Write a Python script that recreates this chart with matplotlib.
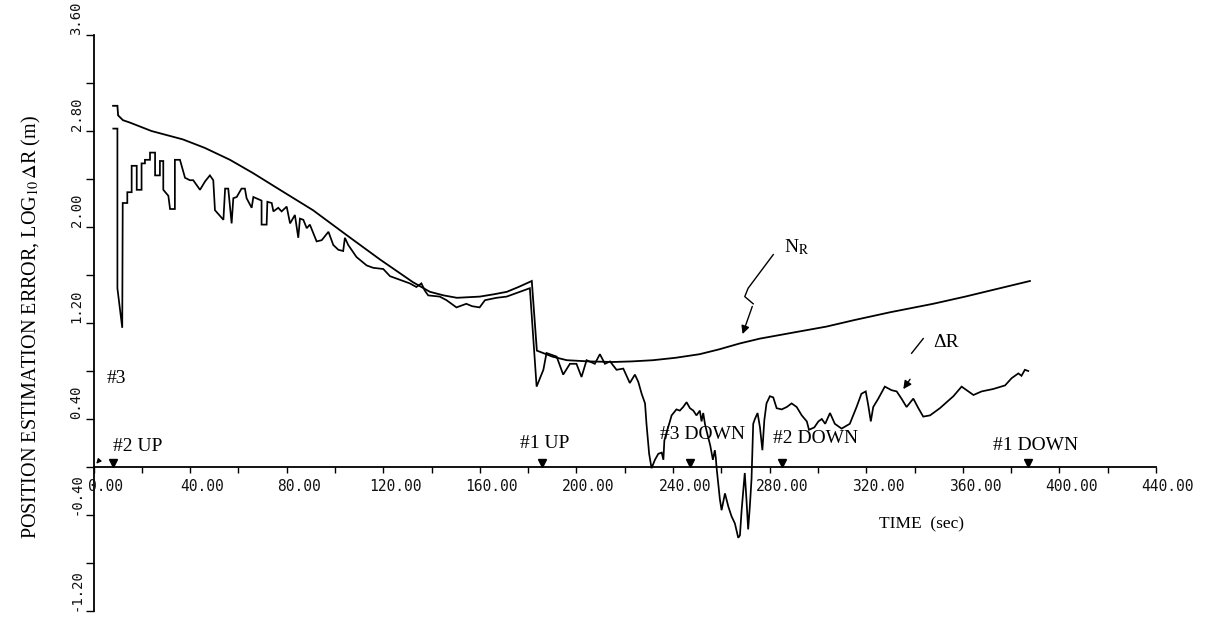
import matplotlib
matplotlib.use("Agg")
import matplotlib.pyplot as plt
import matplotlib.transforms as mtransforms
import numpy as np

plt.rcParams['mathtext.fontset'] = 'stix'
plt.rcParams['font.family'] = ['Liberation Serif', 'DejaVu Serif']

# ---------------- data ----------------
# N_R : filter-predicted error bound (log10 m)
nr_time = [8.1, 9.9, 10.2, 12.2, 15.1, 24.0, 37.0, 46.0, 56.5, 66.0, 77.2, 90.9,
           105.0, 118.6, 132.3, 139.3, 145.0, 150.5, 160.0, 166.0, 171.2, 176.0,
           181.5, 183.6, 190.0, 196.0, 205.0, 215.0, 223.0, 231.7, 241.0, 251.0,
           259.0, 267.7, 276.0, 289.7, 303.5, 315.2, 330.0, 347.7, 361.0, 375.4, 387.8]
nr_log = [3.01, 3.01, 2.93, 2.89, 2.87, 2.80, 2.73, 2.66, 2.56, 2.45, 2.31, 2.14,
          1.93, 1.73, 1.54, 1.46, 1.43, 1.41, 1.42, 1.44, 1.46, 1.50,
          1.55, 0.97, 0.92, 0.89, 0.88, 0.875, 0.88, 0.89, 0.91, 0.94,
          0.98, 1.03, 1.07, 1.12, 1.17, 1.225, 1.29, 1.36, 1.42, 1.49, 1.55]

# Delta R : actual position estimation error (log10 m)
dr_time = [8.2, 9.9, 9.9, 11.9, 12.1, 14.0, 14.0, 15.8, 15.8, 17.9, 17.9, 19.9, 19.9,
           21.3, 21.3, 23.4, 23.4, 25.5, 25.5, 27.5, 27.5, 28.9, 28.9, 31.0, 31.7,
           33.7, 33.7, 35.8, 37.9, 39.9, 41.3, 44.1, 46.2, 48.2, 49.6, 50.3, 53.8,
           54.5, 55.8, 57.2, 57.9, 59.3, 61.3, 62.7, 63.4, 65.5, 66.2, 69.6, 69.6,
           71.7, 72.0, 73.8, 74.5, 76.5, 77.9, 80.0, 81.4, 83.4, 84.8, 85.5, 86.9,
           88.3, 89.6, 92.4, 94.5, 97.3, 99.3, 101.4, 103.4, 104.1, 105.5, 108.9,
           113.1, 115.8, 120.0, 122.8, 126.9, 131.0, 133.7, 135.8, 137.2, 138.6,
           143.4, 146.2, 150.3, 154.4, 156.8, 159.9, 162.1, 166.9, 171.1, 175.2,
           180.7, 183.5, 186.3, 187.6, 191.8, 194.5, 197.3, 200.0, 202.1, 204.2,
           207.6, 209.7, 211.8, 213.9, 216.6, 219.4, 222.1, 224.2, 225.6, 227.0,
           228.4, 229.0, 230.1, 231.1, 232.5, 233.9, 235.3, 236.0, 236.4, 237.5,
           238.7, 239.4, 241.4, 242.8, 244.2, 245.6, 247.0, 248.4, 249.7, 251.1,
           251.8, 252.5, 253.2, 253.9, 255.4, 256.5, 257.3, 257.7, 258.0, 259.4,
           260.1, 261.5, 262.9, 264.2, 265.6, 267.0, 267.7, 268.4, 269.7, 270.4,
           271.1, 271.8, 272.5, 273.2, 273.9, 275.0, 276.0, 277.0, 277.8, 278.7,
           280.1, 281.5, 282.9, 285.0, 287.1, 289.1, 291.2, 293.3, 295.4, 296.3,
           298.5, 300.2, 301.6, 303.0, 305.0, 307.0, 309.8, 313.2, 316.0, 318.0,
           319.8, 320.8, 321.9, 322.9, 325.0, 327.7, 330.5, 332.6, 334.6, 336.7,
           339.5, 341.6, 343.6, 346.4, 350.5, 356.1, 359.5, 361.6, 364.4, 367.8,
           372.6, 377.5, 380.2, 383.0, 384.3, 385.7, 387.1]
dr_log = [2.82, 2.82, 1.49, 1.16, 2.20, 2.20, 2.29, 2.29, 2.51, 2.51, 2.31, 2.31, 2.53,
          2.53, 2.56, 2.56, 2.62, 2.62, 2.43, 2.43, 2.55, 2.55, 2.31, 2.26, 2.15,
          2.15, 2.56, 2.56, 2.41, 2.39, 2.39, 2.31, 2.38, 2.43, 2.39, 2.14, 2.06,
          2.32, 2.32, 2.03, 2.24, 2.25, 2.32, 2.32, 2.24, 2.16, 2.25, 2.22, 2.02,
          2.02, 2.21, 2.20, 2.13, 2.16, 2.13, 2.17, 2.03, 2.10, 1.91, 2.07, 2.06,
          1.99, 2.02, 1.88, 1.89, 1.96, 1.85, 1.81, 1.80, 1.91, 1.85, 1.75,
          1.68, 1.66, 1.65, 1.59, 1.56, 1.53, 1.50, 1.53, 1.47, 1.43,
          1.42, 1.39, 1.33, 1.36, 1.34, 1.33, 1.39, 1.41, 1.42, 1.45,
          1.49, 0.67, 0.81, 0.95, 0.92, 0.77, 0.86, 0.86, 0.75, 0.89,
          0.86, 0.94, 0.86, 0.88, 0.81, 0.82, 0.70, 0.77, 0.71, 0.61,
          0.53, 0.36, 0.11, -0.01, 0.06, 0.11, 0.12, 0.06, 0.22, 0.30,
          0.38, 0.43, 0.48, 0.47, 0.50, 0.54, 0.49, 0.47, 0.43, 0.47,
          0.38, 0.45, 0.36, 0.30, 0.18, 0.06, 0.14, 0.08, 0.00, -0.27,
          -0.36, -0.22, -0.33, -0.41, -0.47, -0.59, -0.57, -0.36, -0.05, -0.27,
          -0.52, -0.33, -0.10, 0.36, 0.40, 0.45, 0.33, 0.14, 0.39, 0.53,
          0.59, 0.58, 0.49, 0.48, 0.50, 0.53, 0.50, 0.43, 0.38, 0.31,
          0.33, 0.38, 0.40, 0.36, 0.45, 0.36, 0.32, 0.36, 0.50, 0.61,
          0.63, 0.52, 0.38, 0.50, 0.57, 0.67, 0.64, 0.63, 0.57, 0.50,
          0.57, 0.49, 0.42, 0.43, 0.49, 0.59, 0.67, 0.64, 0.60, 0.63,
          0.65, 0.68, 0.74, 0.78, 0.76, 0.81, 0.80]

# satellite events (marker time on the time axis)
event_labels = ["#2 UP", "#1 UP", "#3 DOWN", "#2 DOWN", "#1 DOWN"]
event_times = [8.1, 185.6, 247.0, 285.2, 387.1]
event_text_x = [8.1, 176.5, 234.6, 281.4, 372.5]
event_text_y = [0.17, 0.20, 0.27, 0.24, 0.18]

x_ticks = list(range(0, 441, 20))
x_labels = ["%.2f" % v if v % 40 == 0 else "" for v in x_ticks]
y_ticks = [round(-1.2 + 0.4 * k, 2) for k in range(13)]
y_labels = ["%.2f" % v if k % 2 == 0 else "" for k, v in enumerate(y_ticks)]

# ---------------- figure ----------------
W, H, DPI = 1210, 628, 100
fig = plt.figure(figsize=(W / DPI, H / DPI), dpi=DPI)
x0px, x1px, ytop, ybot = 93.5, 1156.0, 35.0, 611.0
ax = fig.add_axes([x0px / W, 1 - ybot / H, (x1px - x0px) / W, (ybot - ytop) / H])

ax.plot(nr_time, nr_log, color='black', lw=1.3, solid_joinstyle='miter')
ax.plot(dr_time, dr_log, color='black', lw=1.25, solid_joinstyle='miter')

ax.set_xlim(0, 440)
ax.set_ylim(-1.2, 3.6)
ax.spines['top'].set_visible(False)
ax.spines['right'].set_visible(False)
ax.spines['bottom'].set_position(('data', 0))
for s in ('left', 'bottom'):
    ax.spines[s].set_linewidth(1.3)

ax.set_xticks(x_ticks)
ax.set_yticks(y_ticks)
ax.tick_params(axis='x', direction='out', length=4, width=1.0, labelbottom=False)
ax.tick_params(axis='y', direction='out', length=6, width=1.0, labelleft=False)

def px(dx, dy):
    return mtransforms.ScaledTranslation(dx / DPI, dy / DPI, fig.dpi_scale_trans)

mono = 'DejaVu Sans Mono'
for v, lab in zip(x_ticks, x_labels):
    if lab:
        ax.text(v, 0, lab, transform=ax.transData + px(12, -12), ha='center', va='top',
                fontsize=10.5, family=mono, color='#111111')
for v, lab in zip(y_ticks, y_labels):
    if lab:
        ax.text(0, v, lab, transform=ax.get_yaxis_transform() + px(-17, 0), rotation=90,
                ha='center', va='bottom', fontsize=10, family=mono, color='#111111')

# event markers and labels
ax.plot(event_times, [0] * len(event_times), ls='none', marker='v', ms=6, color='black',
        transform=ax.transData + px(0, 4.2), clip_on=False)
for tx, ty, lab in zip(event_text_x, event_text_y, event_labels):
    ax.text(tx, ty, lab, ha='left', va='center', fontsize=14)
ax.text(5.6, 0.74, "#3", ha='left', va='center', fontsize=14)
ax.annotate("", xy=(0.4, 0.01), xytext=(3.0, 0.07),
            arrowprops=dict(arrowstyle='-|>', color='black', lw=0.8, mutation_scale=7))

# N_R label with broken leader
ax.text(286.0, 1.83, r"N$_{\mathrm{R}}$", ha='left', va='center', fontsize=14)
ax.plot([281.5, 271.1, 269.7, 273.2], [1.77, 1.49, 1.42, 1.36], color='black', lw=1.0)
ax.annotate("", xy=(268.4, 1.086), xytext=(273.2, 1.36),
            arrowprops=dict(arrowstyle='-|>', color='black', lw=1.0, mutation_scale=12))

# Delta R label with broken leader
ax.text(347.8, 1.04, "\u0394R", ha='left', va='center', fontsize=14)
ax.plot([343.6, 338.8], [1.07, 0.948], color='black', lw=1.0)
ax.annotate("", xy=(334.7, 0.63), xytext=(338.8, 0.75),
            arrowprops=dict(arrowstyle='-|>', color='black', lw=1.0, mutation_scale=12))

# axis titles
ax.text(343, -0.48, "TIME  (sec)", ha='center', va='center', fontsize=12.5)
fig.text(31 / W, 1 - 327 / H, r"POSITION ESTIMATION ERROR, LOG$_{10}\,\Delta$R (m)",
         rotation=90, ha='center', va='center', fontsize=14.5)

fig.savefig("out.png", dpi=DPI, facecolor='white')
